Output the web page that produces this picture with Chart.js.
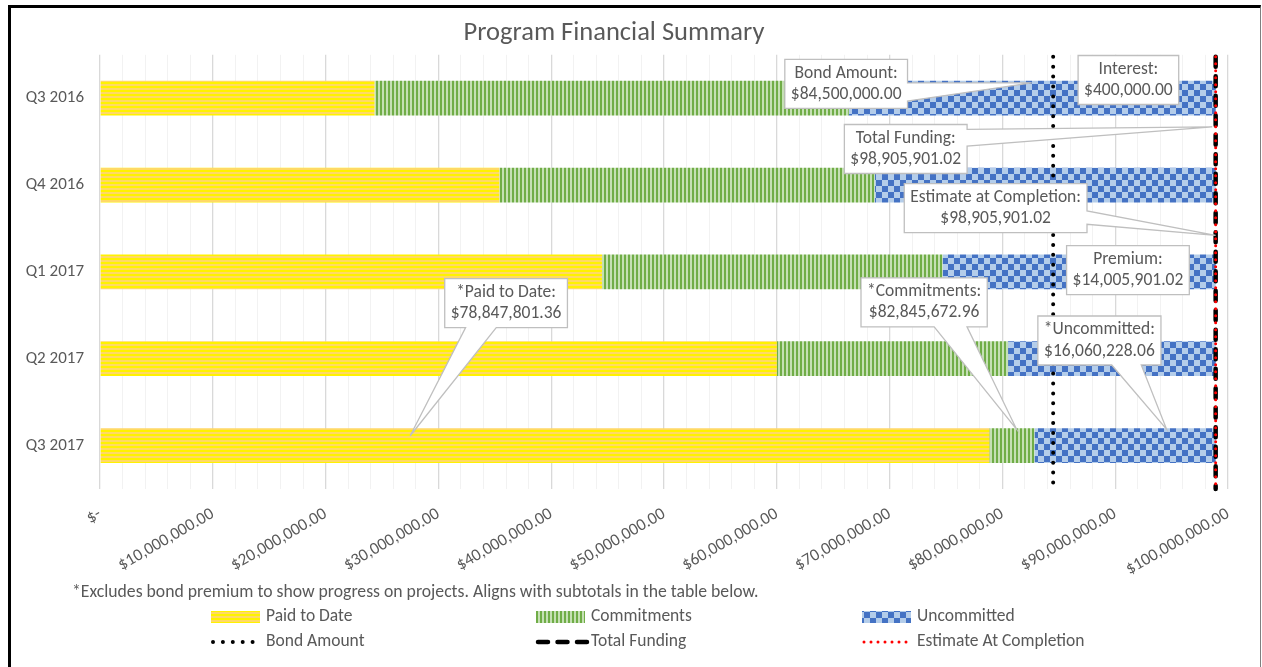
<!DOCTYPE html>
<html>
<head>
<meta charset="utf-8">
<title>Program Financial Summary</title>
<script src="https://cdn.jsdelivr.net/npm/chart.js@4.4.0/dist/chart.umd.min.js"></script>
<style>
  html, body { margin: 0; padding: 0; background: #fff; }
  #wrap { position: relative; width: 1262px; height: 667px; overflow: hidden; }
  #frame { position: absolute; left: 8px; top: 5px; width: 1249px; height: 680px; border-left: 3px solid #000; border-top: 3px solid #000; border-right: 1px solid #7f7f7f; pointer-events: none; }
</style>
</head>
<body>
<div id="wrap">
  <canvas id="chart" width="1262" height="667"></canvas>
  <div id="frame"></div>
</div>
<script>
// categories and series values (dollars)
const categories = ['Q3 2016', 'Q4 2016', 'Q1 2017', 'Q2 2017', 'Q3 2017'];
const paidToDate = [24330000, 35400000, 44500000, 60000000, 78847801.36];
const commitments = [42050000, 33280000, 30200000, 20500000, 3997871.60];
const uncommitted = [32530000, 30230000, 24210000, 18410000, 16060228.06];

// reference lines
const bondAmount = 84500000;
const totalFunding = 98905901.02;
const estimateAtCompletion = 98905901.02;
const interest = 400000;
const premium = 14005901.02;

// x axis
const xMax = 100000000;
const xMinorStep = 2000000;

const FONT = 'Carlito, Calibri, Lato, "Open Sans", sans-serif';
const TEXT = '#595959';

function money(v) {
    if (v === 0) return '$-';
    return '$' + v.toLocaleString('en-US', { minimumFractionDigits: 2, maximumFractionDigits: 2 });
}

// fill patterns like the Excel ones
function makePattern(size, paint) {
    const c = document.createElement('canvas');
    c.width = size; c.height = size;
    paint(c.getContext('2d'));
    return c.getContext('2d').createPattern(c, 'repeat');
}
const paidPattern = makePattern(4, g => {
    g.fillStyle = '#FFD966'; g.fillRect(0, 0, 4, 4);
    g.fillStyle = '#FFF200'; g.fillRect(0, 2, 4, 2);
});
const commitPattern = makePattern(4, g => {
    g.fillStyle = '#C5E0B4'; g.fillRect(0, 0, 4, 4);
    g.fillStyle = '#70AD47'; g.fillRect(0, 0, 2, 4);
});
const uncommitPattern = makePattern(12, g => {
    g.fillStyle = '#B4CDEA'; g.fillRect(0, 0, 12, 12);
    g.fillStyle = '#4472C4'; g.fillRect(0, 0, 6, 6); g.fillRect(6, 6, 6, 6);
});

// vertical marker lines
const markerLines = [
    { label: 'Bond Amount', value: bondAmount, color: '#000', width: 4, dash: [0, 9.9] },
    { label: 'Total Funding', value: totalFunding, color: '#000', width: 4.5, dash: [10, 9.5] },
    { label: 'Estimate At Completion', value: estimateAtCompletion, color: '#FF0000', width: 3, dash: [0, 7] }
];

// callouts: box centre and tip in data space (x value, category index)
const callouts = [
    { lines: ['Bond Amount:', money(bondAmount)], box: [66150000, -0.165], tip: [82600000, -0.177], edge: 'right', base: [0.48, 0.85] },
    { lines: ['Interest:', money(interest)], box: [91170000, -0.21] },
    { lines: ['Total Funding:', money(totalFunding)], box: [71430000, 0.585], tip: [98600000, 0.33], edge: 'right', base: [0.1, 0.44] },
    { lines: ['Estimate at Completion:', money(estimateAtCompletion)], box: [79400000, 1.265], tip: [98900000, 1.58], edge: 'right', base: [0.56, 0.83] },
    { lines: ['Premium:', money(premium)], box: [91130000, 1.98] },
    { lines: ['*Commitments:', money(paidToDate[4] + commitments[4])], box: [73060000, 2.35], tip: [81250000, 3.81], edge: 'bottom', base: [0.58, 0.84] },
    { lines: ['*Uncommitted:', money(uncommitted[4])], box: [88600000, 2.79], tip: [94550000, 3.81], edge: 'bottom', base: [0.6, 0.84] },
    { lines: ['*Paid to Date:', money(paidToDate[4])], box: [36000000, 2.36], tip: [27500000, 3.887], edge: 'bottom', base: [0.17, 0.42] }
];

const footnote = '*Excludes bond premium to show progress on projects. Aligns with subtotals in the table below.';

function strokeMarker(ctx, m, x1, y1, x2, y2) {
    ctx.save();
    ctx.strokeStyle = m.color;
    ctx.lineWidth = m.width;
    ctx.lineCap = 'round';
    ctx.setLineDash(m.dash);
    ctx.beginPath();
    ctx.moveTo(x1, y1);
    ctx.lineTo(x2, y2);
    ctx.stroke();
    ctx.restore();
}

const markersPlugin = {
    id: 'markers',
    afterDatasetsDraw(chart) {
        const ctx = chart.ctx, a = chart.chartArea, xs = chart.scales.x, ys = chart.scales.y;
        markerLines.forEach(m => {
            const x = xs.getPixelForValue(m.value);
            strokeMarker(ctx, m, x, a.top + 2, x, a.bottom);
        });

        // callouts
        ctx.save();
        ctx.font = '17.5px ' + FONT;
        const lineH = 21.5, padX = 6, padY = 3;
        callouts.forEach(c => {
            const w = Math.max(...c.lines.map(t => ctx.measureText(t).width)) + padX * 2;
            const h = c.lines.length * lineH + padY * 2;
            const cx = xs.getPixelForValue(c.box[0]), cy = ys.getPixelForValue(c.box[1]);
            const l = cx - w / 2, t = cy - h / 2, r = l + w, b = t + h;
            let tx, ty;
            if (c.tip) { tx = xs.getPixelForValue(c.tip[0]); ty = ys.getPixelForValue(c.tip[1]); }
            ctx.beginPath();
            ctx.moveTo(l, t);
            ctx.lineTo(r, t);
            if (c.tip && c.edge === 'right') {
                ctx.lineTo(r, t + h * c.base[0]);
                ctx.lineTo(tx, ty);
                ctx.lineTo(r, t + h * c.base[1]);
            }
            ctx.lineTo(r, b);
            if (c.tip && c.edge === 'bottom') {
                ctx.lineTo(l + w * c.base[1], b);
                ctx.lineTo(tx, ty);
                ctx.lineTo(l + w * c.base[0], b);
            }
            ctx.lineTo(l, b);
            ctx.closePath();
            ctx.fillStyle = '#fff';
            ctx.fill();
            ctx.strokeStyle = '#BFBFBF';
            ctx.lineWidth = 1.3;
            ctx.stroke();
            ctx.fillStyle = TEXT;
            ctx.textAlign = 'center';
            ctx.textBaseline = 'middle';
            c.lines.forEach((txt, i) => ctx.fillText(txt, cx, t + padY + lineH * (i + 0.5)));
        });
        ctx.restore();
    },
    afterDraw(chart) {
        const ctx = chart.ctx;
        ctx.save();
        ctx.fillStyle = TEXT;
        ctx.textBaseline = 'middle';
        ctx.textAlign = 'left';
        ctx.font = '17.7px ' + FONT;
        ctx.fillText(footnote, 72, 593);

        // legend, three columns by two rows
        ctx.font = '17.5px ' + FONT;
        const cols = [211, 536, 862], rows = [617, 642];
        chart.data.datasets.forEach((ds, i) => {
            const x = cols[i], y = rows[0];
            ctx.fillStyle = ds.backgroundColor;
            ctx.fillRect(x, y - 6, 49, 12);
            ctx.fillStyle = TEXT;
            ctx.fillText(ds.label, x + 55, y);
        });
        markerLines.forEach((m, i) => {
            const x = cols[i], y = rows[1];
            strokeMarker(ctx, m, x + 2, y, x + 51, y);
            ctx.fillStyle = TEXT;
            ctx.fillText(m.label, x + 55, y);
        });
        ctx.restore();
    }
};

new Chart(document.getElementById('chart'), {
    type: 'bar',
    data: {
        labels: categories,
        datasets: [
            { label: 'Paid to Date', data: paidToDate, backgroundColor: paidPattern },
            { label: 'Commitments', data: commitments, backgroundColor: commitPattern },
            { label: 'Uncommitted', data: uncommitted, backgroundColor: uncommitPattern }
        ]
    },
    options: {
        indexAxis: 'y',
        responsive: false,
        devicePixelRatio: 1,
        animation: false,
        layout: { padding: { left: 0, right: 34, top: 0, bottom: 88 } },
        datasets: { bar: { categoryPercentage: 1, barPercentage: 0.4, borderWidth: 0 } },
        plugins: {
            legend: { display: false },
            tooltip: { enabled: false },
            title: {
                display: true,
                text: 'Program Financial Summary',
                color: TEXT,
                font: { family: FONT, size: 26.5, weight: 'normal' },
                padding: { top: 17, bottom: 6 }
            }
        },
        scales: {
            x: {
                stacked: true,
                min: 0,
                max: xMax,
                afterFit: s => { s.height = 90; },
                grid: {
                    drawTicks: false,
                    color: c => (c.tick && Math.round(c.tick.value / xMinorStep) % 5 === 0) ? '#D9D9D9' : '#F2F2F2',
                    lineWidth: c => (c.tick && Math.round(c.tick.value / xMinorStep) % 5 === 0) ? 1.3 : 1
                },
                border: { display: false },
                ticks: {
                    stepSize: xMinorStep,
                    autoSkip: false,
                    minRotation: 30,
                    maxRotation: 30,
                    padding: 15,
                    color: TEXT,
                    font: { family: FONT, size: 17 },
                    callback: v => (Math.round(v / xMinorStep) % 5 === 0) ? money(v) : ''
                }
            },
            y: {
                stacked: true,
                afterFit: s => { s.width = 100; },
                grid: { display: false },
                border: { display: false },
                ticks: { padding: 8, color: TEXT, font: { family: FONT, size: 17 } }
            }
        }
    },
    plugins: [markersPlugin]
});
</script>
</body>
</html>
